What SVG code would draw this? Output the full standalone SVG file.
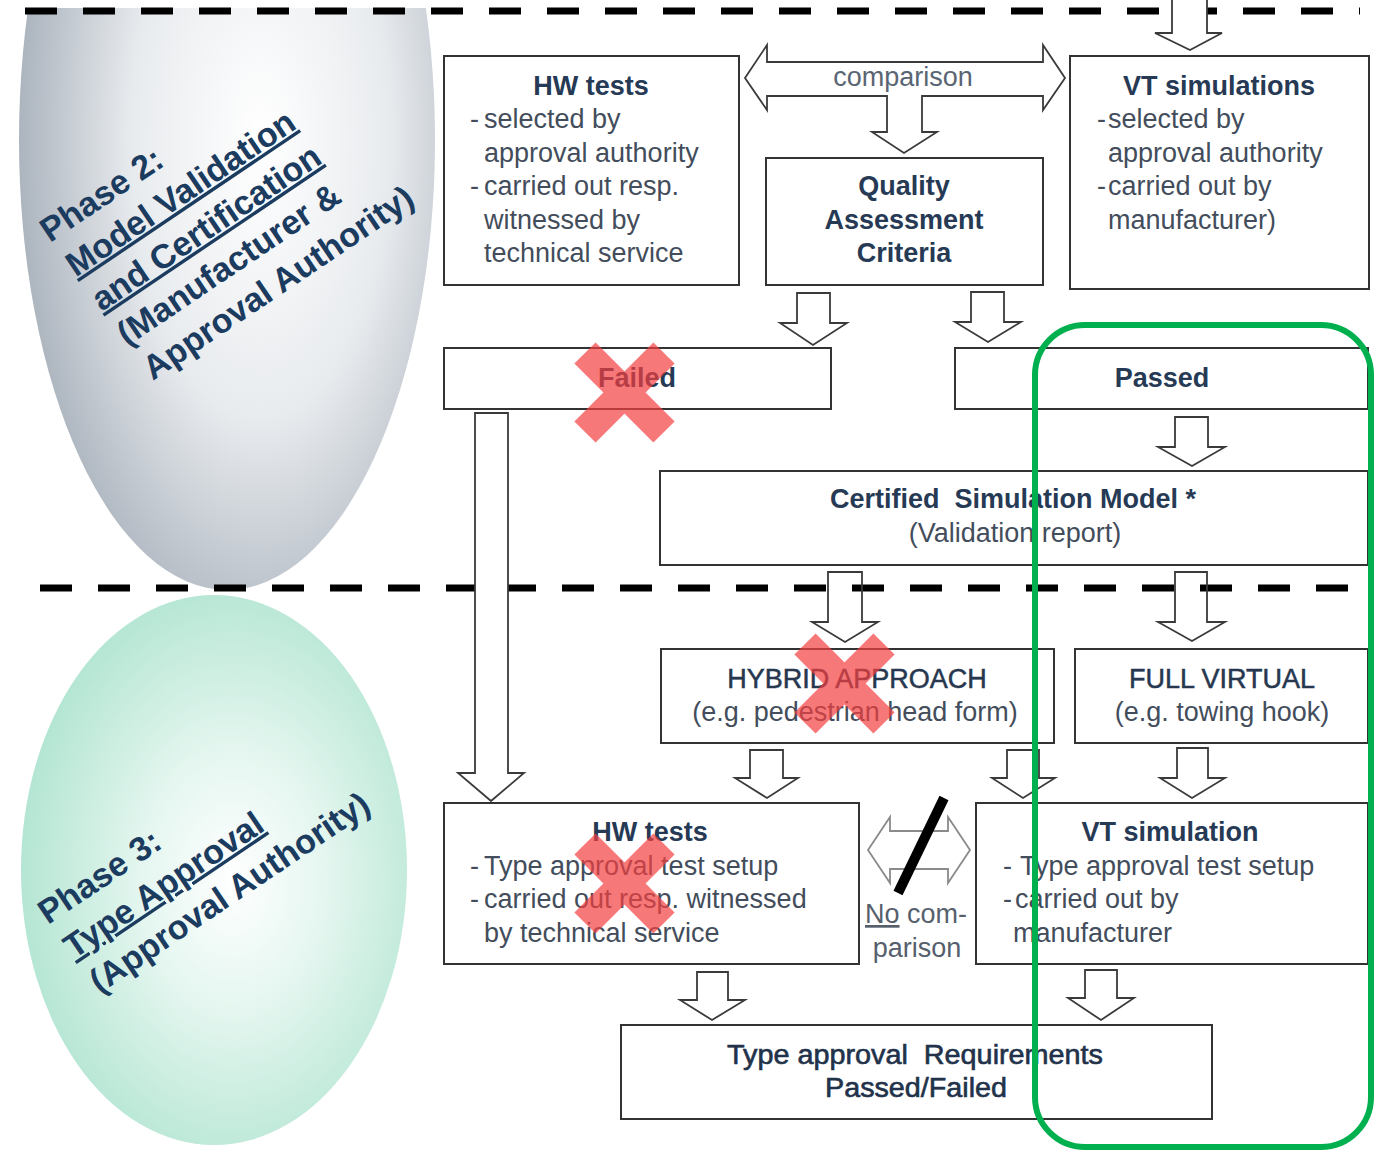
<svg xmlns="http://www.w3.org/2000/svg" width="1380" height="1151" viewBox="0 0 1380 1151">
<style>
.bx{fill:#fff;stroke:#333;stroke-width:2}
.t{font-family:"Liberation Sans",Arial,sans-serif;font-size:27px;fill:#434d5b}
.tb{font-family:"Liberation Sans",Arial,sans-serif;font-size:27px;font-weight:bold;fill:#263a55}
.tm{font-family:"Liberation Sans",Arial,sans-serif;font-size:27px;fill:#27374f;stroke:#27374f;stroke-width:0.5}
.ph{font-family:"Liberation Sans",Arial,sans-serif;font-size:34px;font-weight:bold;fill:#1b3b5f}
.ar{fill:#fff;stroke:#3a3a3a;stroke-width:1.8;stroke-linejoin:miter}
.arn{fill:none;stroke:#3a3a3a;stroke-width:1.8}
.dash{stroke:#000;stroke-width:7;stroke-dasharray:32 26;fill:none}
.x{stroke:#f43f3f;stroke-width:30;stroke-linecap:butt}
</style>
<defs>
<radialGradient id="g2" cx="0.58" cy="0.5" r="0.62">
<stop offset="0" stop-color="#ffffff"/>
<stop offset="0.5" stop-color="#e8ebee"/>
<stop offset="1" stop-color="#a3acb7"/>
</radialGradient>
<radialGradient id="g3" cx="0.55" cy="0.52" r="0.6">
<stop offset="0" stop-color="#ffffff"/>
<stop offset="0.4" stop-color="#e4f6ef"/>
<stop offset="1" stop-color="#ade3cf"/>
</radialGradient>
<clipPath id="cp2"><rect x="0" y="8" width="1380" height="700"/></clipPath>
</defs>
<rect width="1380" height="1151" fill="#fff"/>

<g id="phase2">
<ellipse cx="227" cy="140" rx="208" ry="450" fill="url(#g2)" clip-path="url(#cp2)"/>
<g transform="translate(50,243) rotate(-34)">
<text class="ph" x="0" y="0">Phase 2:</text>
<text class="ph" x="2" y="43" text-decoration="underline">Model Validation</text>
<text class="ph" x="4" y="86" text-decoration="underline">and Certification</text>
<text class="ph" x="6" y="129">(Manufacturer &amp;</text>
<text class="ph" x="8" y="172">Approval Authority)</text>
</g>
</g>

<g id="phase3">
<ellipse cx="214" cy="870" rx="193" ry="275" fill="url(#g3)"/>
<g transform="translate(48,925) rotate(-34)">
<text class="ph" x="0" y="0">Phase 3:</text>
<text class="ph" x="2" y="43" text-decoration="underline">Type Approval</text>
<text class="ph" x="4" y="86">(Approval Authority)</text>
</g>
</g>

<g id="separators">
<line class="dash" x1="25" y1="11" x2="1360" y2="11"/>
<line class="dash" x1="40" y1="588" x2="1360" y2="588"/>
</g>

<g id="hw-tests-1">
<rect class="bx" x="444" y="56" width="295" height="229"/>
<text class="tb" x="591" y="95" text-anchor="middle">HW tests</text>
<text class="t" x="470" y="128">-</text><text class="t" x="484" y="128">selected by</text>
<text class="t" x="484" y="162">approval authority</text>
<text class="t" x="470" y="195">-</text><text class="t" x="484" y="195">carried out resp.</text>
<text class="t" x="484" y="229">witnessed by</text>
<text class="t" x="484" y="262">technical service</text>
</g>

<g id="vt-simulations-1">
<rect class="bx" x="1070" y="56" width="299" height="233"/>
<text class="tb" x="1219" y="95" text-anchor="middle">VT simulations</text>
<text class="t" x="1097" y="128">-</text><text class="t" x="1108" y="128">selected by</text>
<text class="t" x="1108" y="162">approval authority</text>
<text class="t" x="1097" y="195">-</text><text class="t" x="1108" y="195">carried out by</text>
<text class="t" x="1108" y="229">manufacturer)</text>
</g>

<g id="qac">
<rect class="bx" x="766" y="158" width="277" height="127"/>
<text class="tb" x="904" y="195" text-anchor="middle">Quality</text>
<text class="tb" x="904" y="229" text-anchor="middle">Assessment</text>
<text class="tb" x="904" y="262" text-anchor="middle">Criteria</text>
</g>

<g id="failed">
<rect class="bx" x="444" y="348" width="387" height="61"/>
<text class="tb" x="637" y="387" text-anchor="middle">Failed</text>
</g>

<g id="passed">
<rect class="bx" x="955" y="348" width="413" height="61"/>
<text class="tb" x="1162" y="387" text-anchor="middle">Passed</text>
</g>

<g id="certified">
<rect class="bx" x="660" y="471" width="708" height="94"/>
<text class="tb" x="1013" y="508" text-anchor="middle" xml:space="preserve">Certified  Simulation Model *</text>
<text class="t" x="1015" y="542" text-anchor="middle">(Validation report)</text>
</g>

<g id="hybrid">
<rect class="bx" x="661" y="649" width="393" height="94"/>
<text class="tm" x="857" y="688" text-anchor="middle">HYBRID APPROACH</text>
<text class="t" x="855" y="721" text-anchor="middle">(e.g. pedestrian head form)</text>
</g>

<g id="full-virtual">
<rect class="bx" x="1075" y="649" width="293" height="94"/>
<text class="tm" x="1222" y="688" text-anchor="middle">FULL VIRTUAL</text>
<text class="t" x="1222" y="721" text-anchor="middle">(e.g. towing hook)</text>
</g>

<g id="hw-tests-2">
<rect class="bx" x="444" y="803" width="415" height="161"/>
<text class="tb" x="650" y="841" text-anchor="middle">HW tests</text>
<text class="t" x="470" y="875">-</text><text class="t" x="484" y="875">Type approval test setup</text>
<text class="t" x="470" y="908">-</text><text class="t" x="484" y="908">carried out resp. witnessed</text>
<text class="t" x="484" y="942">by technical service</text>
</g>

<g id="vt-simulation-2">
<rect class="bx" x="976" y="803" width="392" height="161"/>
<text class="tb" x="1170" y="841" text-anchor="middle">VT simulation</text>
<text class="t" x="1003" y="875">-</text><text class="t" x="1020" y="875">Type approval test setup</text>
<text class="t" x="1003" y="908">-</text><text class="t" x="1015" y="908">carried out by</text>
<text class="t" x="1013" y="942">manufacturer</text>
</g>

<g id="type-approval">
<rect class="bx" x="621" y="1025" width="591" height="94"/>
<text class="tb" x="727" y="1064" textLength="376" lengthAdjust="spacingAndGlyphs" style="font-weight:normal;fill:#22324a;stroke:#22324a;stroke-width:0.6" xml:space="preserve">Type approval  Requirements</text>
<text class="tb" x="825" y="1097" textLength="182" lengthAdjust="spacingAndGlyphs" style="font-weight:normal;fill:#22324a;stroke:#22324a;stroke-width:0.6">Passed/Failed</text>
</g>

<g id="connectors">
<path class="ar" d="M1172,-2 L1207,-2 L1207,33 L1222,33 L1190,50 L1155,33 L1172,33 Z"/>
<path class="ar" d="M745,78 L767,45 L767,62 L1043,62 L1043,45 L1065,78 L1043,110 L1043,96 L922,96 L922,132 L937,132 L904,153 L872,132 L887,132 L887,96 L767,96 L767,110 Z"/>
<text class="t" x="903" y="86" text-anchor="middle" style="fill:#5a6573">comparison</text>
<path class="ar" d="M797,293 L830,293 L830,323 L847,323 L813,345 L780,323 L797,323 Z"/>
<path class="ar" d="M971,292 L1004,292 L1004,322 L1021,322 L988,342 L955,322 L971,322 Z"/>
<path class="ar" d="M1175,417 L1208,417 L1208,447 L1225,447 L1192,466 L1158,447 L1175,447 Z"/>
<path class="ar" d="M475,413 L508,413 L508,773 L524,773 L491,801 L458,773 L475,773 Z"/>
<path class="arn" d="M828,572 L862,572 L862,622 L878,622 L845,642 L812,622 L828,622 Z"/>
<path class="arn" d="M1175,572 L1207,572 L1207,622 L1225,622 L1192,641 L1158,622 L1175,622 Z"/>
<path class="ar" d="M750,750 L783,750 L783,778 L798,778 L767,798 L735,778 L750,778 Z"/>
<path class="ar" d="M1007,750 L1039,750 L1039,778 L1055,778 L1023,798 L992,778 L1007,778 Z"/>
<path class="ar" d="M1177,748 L1208,748 L1208,778 L1225,778 L1192,798 L1160,778 L1177,778 Z"/>
<path class="ar" d="M697,972 L728,972 L728,1000 L745,1000 L712,1020 L680,1000 L697,1000 Z"/>
<path class="ar" d="M1085,970 L1117,970 L1117,998 L1134,998 L1101,1020 L1068,998 L1085,998 Z"/>
<path class="ar" style="stroke:#8a8a8a" d="M868,850 L890,817 L890,831 L948,831 L948,817 L970,850 L948,883 L948,869 L890,869 L890,883 Z"/>
<line x1="944" y1="798" x2="898" y2="893" stroke="#000" stroke-width="10"/>
<text class="t" x="865" y="923" style="fill:#56606d"><tspan text-decoration="underline">No</tspan> com-</text>
<text class="t" x="917" y="957" text-anchor="middle" style="fill:#56606d">parison</text>
</g>

<g id="cross-marks">
<g opacity="0.7">
<line class="x" x1="585" y1="353" x2="664" y2="432"/>
<line class="x" x1="664" y1="353" x2="585" y2="432"/>
</g>
<g opacity="0.7">
<line class="x" x1="805" y1="644" x2="884" y2="723"/>
<line class="x" x1="884" y1="644" x2="805" y2="723"/>
</g>
<g opacity="0.7">
<line class="x" x1="585" y1="844" x2="664" y2="923"/>
<line class="x" x1="664" y1="844" x2="585" y2="923"/>
</g>
</g>

<g id="highlight">
<rect x="1035" y="325" width="336" height="822" rx="50" ry="50" fill="none" stroke="#00b04f" stroke-width="6"/>
</g>
</svg>
